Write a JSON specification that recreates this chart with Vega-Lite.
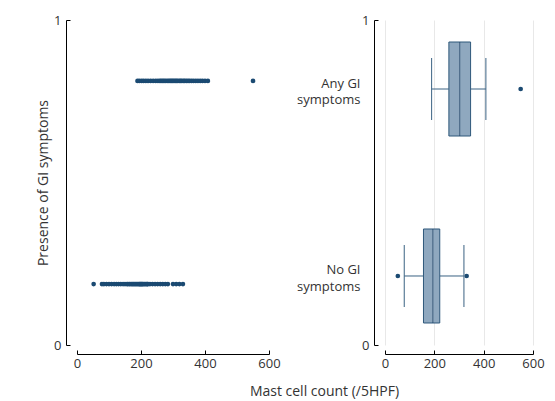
{
  "$schema": "https://vega.github.io/schema/vega-lite/v6.json",
  "padding": {"left": 36, "top": 14, "right": 5, "bottom": 2},
  "background": "white",
  "config": {
    "font": "Open Sans",
    "view": {"stroke": null},
    "axis": {
      "labelFont": "Open Sans", "labelFontSize": 13, "labelColor": "#333333", "labelFlush": false,
      "titleFont": "Open Sans", "titleFontSize": 14, "titleFontWeight": "normal", "titleColor": "#333333",
      "domainColor": "#000000", "tickColor": "#000000", "domainWidth": 1, "tickWidth": 1
    }
  },
  "datasets": {
    "mast": [
      {"group": "Any GI symptoms", "count": 189}, {"group": "Any GI symptoms", "count": 195}, {"group": "Any GI symptoms", "count": 202},
      {"group": "Any GI symptoms", "count": 208}, {"group": "Any GI symptoms", "count": 215}, {"group": "Any GI symptoms", "count": 222},
      {"group": "Any GI symptoms", "count": 230}, {"group": "Any GI symptoms", "count": 238}, {"group": "Any GI symptoms", "count": 246},
      {"group": "Any GI symptoms", "count": 253}, {"group": "Any GI symptoms", "count": 259}, {"group": "Any GI symptoms", "count": 263},
      {"group": "Any GI symptoms", "count": 268}, {"group": "Any GI symptoms", "count": 272}, {"group": "Any GI symptoms", "count": 277},
      {"group": "Any GI symptoms", "count": 282}, {"group": "Any GI symptoms", "count": 287}, {"group": "Any GI symptoms", "count": 291},
      {"group": "Any GI symptoms", "count": 295}, {"group": "Any GI symptoms", "count": 299}, {"group": "Any GI symptoms", "count": 303},
      {"group": "Any GI symptoms", "count": 307}, {"group": "Any GI symptoms", "count": 311}, {"group": "Any GI symptoms", "count": 315},
      {"group": "Any GI symptoms", "count": 320}, {"group": "Any GI symptoms", "count": 324}, {"group": "Any GI symptoms", "count": 328},
      {"group": "Any GI symptoms", "count": 333}, {"group": "Any GI symptoms", "count": 337}, {"group": "Any GI symptoms", "count": 342},
      {"group": "Any GI symptoms", "count": 347}, {"group": "Any GI symptoms", "count": 352}, {"group": "Any GI symptoms", "count": 358},
      {"group": "Any GI symptoms", "count": 364}, {"group": "Any GI symptoms", "count": 371}, {"group": "Any GI symptoms", "count": 378},
      {"group": "Any GI symptoms", "count": 385}, {"group": "Any GI symptoms", "count": 392}, {"group": "Any GI symptoms", "count": 400},
      {"group": "Any GI symptoms", "count": 409}, {"group": "Any GI symptoms", "count": 550},
      {"group": "No GI symptoms", "count": 52}, {"group": "No GI symptoms", "count": 78}, {"group": "No GI symptoms", "count": 84},
      {"group": "No GI symptoms", "count": 92}, {"group": "No GI symptoms", "count": 100}, {"group": "No GI symptoms", "count": 108},
      {"group": "No GI symptoms", "count": 116}, {"group": "No GI symptoms", "count": 123}, {"group": "No GI symptoms", "count": 130},
      {"group": "No GI symptoms", "count": 137}, {"group": "No GI symptoms", "count": 144}, {"group": "No GI symptoms", "count": 150},
      {"group": "No GI symptoms", "count": 156}, {"group": "No GI symptoms", "count": 159}, {"group": "No GI symptoms", "count": 163},
      {"group": "No GI symptoms", "count": 166}, {"group": "No GI symptoms", "count": 170}, {"group": "No GI symptoms", "count": 173},
      {"group": "No GI symptoms", "count": 176}, {"group": "No GI symptoms", "count": 179}, {"group": "No GI symptoms", "count": 182},
      {"group": "No GI symptoms", "count": 185}, {"group": "No GI symptoms", "count": 188}, {"group": "No GI symptoms", "count": 191},
      {"group": "No GI symptoms", "count": 194}, {"group": "No GI symptoms", "count": 196}, {"group": "No GI symptoms", "count": 198},
      {"group": "No GI symptoms", "count": 200}, {"group": "No GI symptoms", "count": 202}, {"group": "No GI symptoms", "count": 204},
      {"group": "No GI symptoms", "count": 206}, {"group": "No GI symptoms", "count": 209}, {"group": "No GI symptoms", "count": 212},
      {"group": "No GI symptoms", "count": 215}, {"group": "No GI symptoms", "count": 218}, {"group": "No GI symptoms", "count": 220},
      {"group": "No GI symptoms", "count": 222}, {"group": "No GI symptoms", "count": 228}, {"group": "No GI symptoms", "count": 236},
      {"group": "No GI symptoms", "count": 244}, {"group": "No GI symptoms", "count": 252}, {"group": "No GI symptoms", "count": 260},
      {"group": "No GI symptoms", "count": 268}, {"group": "No GI symptoms", "count": 276}, {"group": "No GI symptoms", "count": 284},
      {"group": "No GI symptoms", "count": 300}, {"group": "No GI symptoms", "count": 310}, {"group": "No GI symptoms", "count": 320},
      {"group": "No GI symptoms", "count": 331}
    ],
    "axisrow": [{}]
  },
  "spacing": 116,
  "bounds": "flush",
  "hconcat": [
    {
      "width": 192,
      "height": 325,
      "layer": [
        {
          "data": {"name": "mast"},
          "mark": {"type": "point", "filled": true, "size": 22, "color": "#1b4a72", "opacity": 1},
          "encoding": {
            "x": {
              "field": "count", "type": "quantitative",
              "scale": {"domain": [0, 600], "nice": false},
              "axis": {"values": [0, 200, 400, 600], "offset": 9, "tickSize": -4, "labelPadding": 7, "grid": false,
                       "title": "Mast cell count (/5HPF)", "titleX": 247, "titleY": 41, "titleAlign": "center", "titleBaseline": "alphabetic", "titleAnchor": null}
            },
            "y": {
              "field": "group", "type": "nominal", "sort": ["Any GI symptoms", "No GI symptoms"],
              "scale": {"type": "point", "padding": 0.3}, "axis": null
            }
          }
        },
        {
          "data": {"name": "axisrow"},
          "mark": {"type": "rule", "opacity": 0},
          "encoding": {
            "y": {
              "datum": 0, "type": "quantitative",
              "scale": {"domain": [0, 1], "nice": false},
              "axis": {"orient": "left", "values": [0, 1], "format": "d", "offset": 11, "tickSize": -4, "labelPadding": 9, "grid": false,
                       "title": "Presence of GI symptoms", "titlePadding": 3}
            }
          }
        }
      ],
      "resolve": {"scale": {"y": "independent"}, "axis": {"y": "independent"}}
    },
    {
      "width": 148,
      "height": 325,
      "layer": [
        {
          "data": {"name": "mast"},
          "mark": {
            "type": "boxplot", "extent": 1.5, "size": 94,
            "box": {"color": "#8fa8bf", "stroke": "#2f587b", "strokeWidth": 1},
            "median": {"color": "#1b3f63", "strokeWidth": 1.2},
            "rule": {"color": "#3a6283"},
            "ticks": {"size": 62, "color": "#3a6283"},
            "outliers": {"filled": true, "color": "#1b4a72", "size": 22, "opacity": 1}
          },
          "encoding": {
            "x": {
              "field": "count", "type": "quantitative",
              "scale": {"domain": [0, 600], "nice": false},
              "axis": {"values": [0, 200, 400, 600], "offset": 9, "tickSize": -4, "labelPadding": 7,
                       "grid": true, "gridColor": "#e8e8e8", "gridWidth": 1, "title": null}
            },
            "y": {
              "field": "group", "type": "nominal", "sort": ["Any GI symptoms", "No GI symptoms"],
              "scale": {"type": "point", "padding": 0.369},
              "axis": {"orient": "left", "title": null, "domain": false, "ticks": false, "offset": 20, "labelPadding": 5,
                       "labelAlign": "right", "labelBaseline": "middle", "labelLineHeight": 16.5, "labelOffset": -6,
                       "labelExpr": "datum.value == 'Any GI symptoms' ? ['Any GI', 'symptoms'] : ['No GI', 'symptoms']"}
            }
          }
        },
        {
          "data": {"name": "axisrow"},
          "mark": {"type": "rule", "opacity": 0},
          "encoding": {
            "y": {
              "datum": 0, "type": "quantitative",
              "scale": {"domain": [0, 1], "nice": false},
              "axis": {"orient": "left", "values": [0, 1], "format": "d", "offset": 11, "tickSize": -4, "labelPadding": 9, "grid": false, "title": null}
            }
          }
        }
      ],
      "resolve": {"scale": {"y": "independent"}, "axis": {"y": "independent"}}
    }
  ]
}
